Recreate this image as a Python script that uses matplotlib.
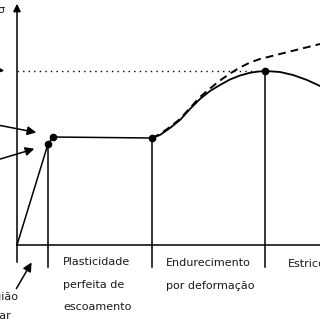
import numpy as np
import matplotlib
matplotlib.use("Agg")
import matplotlib.pyplot as plt

# schematic stress-strain curve (arbitrary units)
elastic_strain = [0.0, 3.1]
elastic_stress = [0.0, 10.1]

yield_strain = [3.1, 3.6]
yield_stress = [10.1, 10.8]

plateau_strain = [3.6, 13.5]
plateau_stress = [10.8, 10.7]

# engineering curve (solid)
hard_strain = [13.5, 14.3, 15.3, 16.3, 17.3, 18.3, 19.3, 20.3, 21.3, 22.3, 23.3, 24.0,
               24.8, 26.3, 27.6, 29.0, 30.3]
hard_stress = [10.7, 11.0, 11.7, 12.5, 13.6, 14.6, 15.4, 16.0, 16.55, 16.95, 17.22, 17.33,
               17.4, 17.3, 17.0, 16.5, 15.9]

# true curve (dashed)
true_strain = [13.5, 14.3, 15.3, 16.3, 17.3, 18.3, 19.3, 20.3, 21.3, 22.3, 23.3, 24.3,
               25.3, 26.3, 27.3, 28.3, 29.3, 30.3]
true_stress = [10.7, 11.1, 11.8, 12.6, 13.7, 14.8, 15.65, 16.45, 17.15, 17.75, 18.25, 18.6,
               18.85, 19.1, 19.35, 19.6, 19.85, 20.1]

uts_strain = 24.8
uts_stress = 17.4

# region boundaries
bounds = [0.0, 3.1, 13.5, 24.8]
bound_top = [24.3, 10.1, 10.7, 17.4]

fig = plt.figure(figsize=(3.2, 3.2), dpi=100)
ax = fig.add_axes([0, 0, 1, 1])
ax.set_xlim(-1.7, 30.3)
ax.set_ylim(-7.5, 24.5)
ax.axis('off')

lw = 1.1
fs = 8
tc = '#1a1a1a'

# axes
ax.plot([0, 32], [0, 0], color='black', lw=lw)
ax.annotate('', xy=(0, 24.4), xytext=(0, -2.0),
            arrowprops=dict(arrowstyle='-|>', color='black', lw=lw, mutation_scale=11))
for b, t in zip(bounds[1:], bound_top[1:]):
    ax.plot([b, b], [-2.2, t], color='black', lw=lw)

# curves
ax.plot(elastic_strain, elastic_stress, color='black', lw=lw)
ax.plot(yield_strain, yield_stress, color='black', lw=lw)
ax.plot(plateau_strain, plateau_stress, color='black', lw=lw)
ax.plot(hard_strain, hard_stress, color='black', lw=lw + 0.2, solid_joinstyle='round')
ax.plot(true_strain, true_stress, color='black', lw=1.4, ls=(0, (4, 2.6)))
ax.plot([0, 24.0], [uts_stress, uts_stress], color='black', lw=1.0, ls=(0, (1, 3)))

mx = [yield_strain[0], yield_strain[1], plateau_strain[1], uts_strain]
my = [yield_stress[0], yield_stress[1], plateau_stress[1], uts_stress]
ax.plot(mx, my, 'o', color='black', ms=4.5)

# pointers coming from the left
ap = dict(arrowstyle='-|>', color='black', lw=lw, mutation_scale=13)
ax.annotate('', xy=(-1.0, 17.4), xytext=(-4.0, 17.7), arrowprops=ap)
ax.annotate('', xy=(2.2, 11.2), xytext=(-4.0, 12.4), arrowprops=ap)
ax.annotate('', xy=(2.0, 9.7), xytext=(-4.0, 7.9), arrowprops=ap)
ax.annotate('', xy=(1.6, -1.5), xytext=(-0.2, -4.6), arrowprops=ap)

# labels
ax.text(-1.3, 23.5, 'σ', fontsize=fs, ha='right', va='center', color=tc)
ax.text(-1.7, -4.7, 'Região', fontsize=fs, ha='center', va='top', color=tc)
ax.text(-2.2, -6.6, 'linear', fontsize=fs, ha='center', va='top', color=tc)
ax.text(4.6, -2.0, 'Plasticidade', fontsize=fs, ha='left', va='baseline', color=tc)
ax.text(4.6, -4.3, 'perfeita de', fontsize=fs, ha='left', va='baseline', color=tc)
ax.text(4.6, -6.5, 'escoamento', fontsize=fs, ha='left', va='baseline', color=tc)
ax.text(14.9, -2.1, 'Endurecimento', fontsize=fs, ha='left', va='baseline', color=tc)
ax.text(14.9, -4.4, 'por deformação', fontsize=fs, ha='left', va='baseline', color=tc)
ax.text(27.1, -2.2, 'Estricção', fontsize=fs, ha='left', va='baseline', color=tc)

fig.savefig('out.png', dpi=100)
